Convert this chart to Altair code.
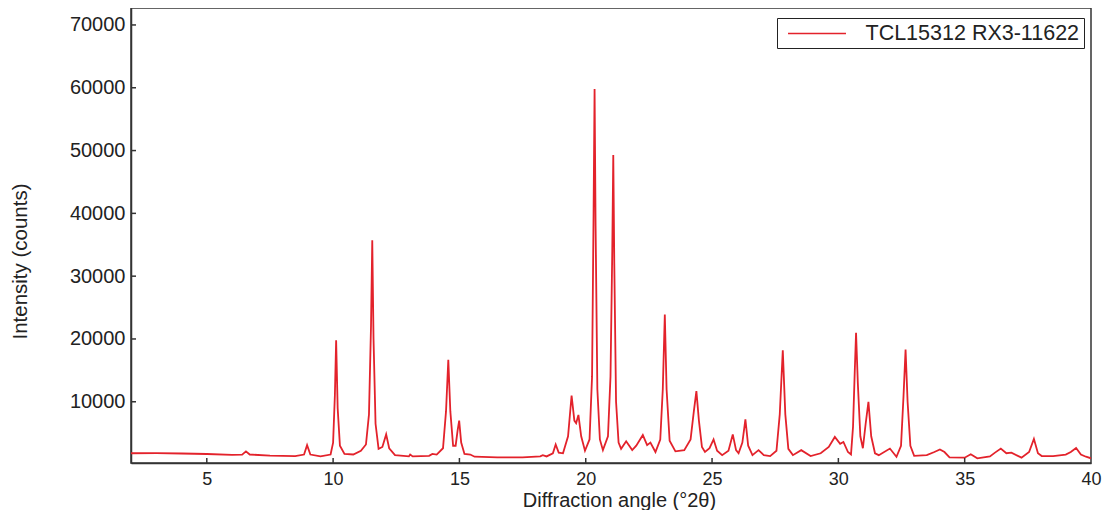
import altair as alt
import pandas as pd

SERIES = "TCL15312 RX3-11622"

angle = [
    2.0, 3.0, 4.0, 5.0, 6.0, 6.4, 6.55, 6.7, 7.5, 8.5,
    8.85, 8.97, 9.1, 9.5, 9.9, 10.0, 10.07, 10.12, 10.18, 10.27,
    10.45, 10.8, 11.1, 11.3, 11.42, 11.5, 11.55, 11.6, 11.68, 11.8,
    11.95, 12.1, 12.22, 12.45, 13.0, 13.05, 13.15, 13.8, 13.93, 14.1,
    14.35, 14.47, 14.56, 14.64, 14.75, 14.85, 14.93, 14.99, 15.07, 15.2,
    15.43, 15.6, 16.5, 17.5, 18.2, 18.3, 18.45, 18.7, 18.81, 18.93,
    19.1, 19.3, 19.44, 19.55, 19.62, 19.71, 19.82, 19.97, 20.15, 20.25,
    20.31, 20.35, 20.39, 20.46, 20.56, 20.68, 20.88, 20.98, 21.05, 21.09,
    21.13, 21.2, 21.3, 21.4, 21.6, 21.84, 22.0, 22.26, 22.43, 22.56,
    22.76, 22.95, 23.05, 23.13, 23.2, 23.32, 23.55, 23.9, 24.15, 24.28,
    24.38, 24.48, 24.6, 24.72, 24.9, 25.06, 25.2, 25.4, 25.65, 25.82,
    25.95, 26.05, 26.2, 26.32, 26.43, 26.6, 26.84, 27.05, 27.3, 27.55,
    27.68, 27.8, 27.9, 28.02, 28.2, 28.53, 28.9, 29.3, 29.62, 29.86,
    30.07, 30.2, 30.38, 30.5, 30.58, 30.65, 30.7, 30.77, 30.87, 30.97,
    31.08, 31.19, 31.3, 31.45, 31.6, 32.04, 32.3, 32.48, 32.58, 32.66,
    32.74, 32.85, 33.0, 33.5, 33.8, 34.02, 34.2, 34.4, 35.0, 35.24,
    35.5, 36.0, 36.2, 36.43, 36.65, 36.85, 37.25, 37.55, 37.74, 37.9,
    38.05, 38.5, 39.0, 39.2, 39.41, 39.6, 39.8, 40.0,
]

intensity = [
    1800, 1820, 1760, 1680, 1550, 1580, 2100, 1600, 1420, 1350,
    1600, 3100, 1600, 1300, 1600, 3500, 11000, 19800, 9000, 3000,
    1700, 1600, 2200, 3200, 8000, 22000, 35700, 20000, 6500, 2500,
    2800, 4800, 2600, 1500, 1300, 1600, 1300, 1400, 1700, 1600,
    2600, 8500, 16700, 8500, 3000, 3000, 5500, 7000, 3500, 1700,
    1600, 1250, 1150, 1150, 1300, 1500, 1300, 1800, 3200, 1900,
    1800, 4500, 11000, 7000, 6600, 7900, 4500, 2200, 4000, 14000,
    40000, 59800, 38000, 12000, 4000, 2300, 4500, 14000, 34000, 49300,
    32000, 10000, 3500, 2500, 3700, 2300, 3000, 4700, 3100, 3500,
    2000, 4000, 12000, 23900, 12000, 3800, 2100, 2300, 4000, 8500,
    11700, 7000, 2800, 2000, 2600, 4000, 2200, 1500, 2200, 4800,
    2300, 1800, 3500, 7200, 3000, 1500, 2300, 1500, 1350, 2200,
    8000, 18200, 8000, 2500, 1500, 2300, 1350, 1800, 2800, 4400,
    3300, 3600, 2000, 1600, 6000, 15000, 21000, 13000, 4500, 2600,
    6500, 10000, 4500, 1800, 1500, 2550, 1250, 3000, 11000, 18300,
    10000, 3000, 1400, 1500, 2000, 2400, 2000, 1150, 1100, 1650,
    1000, 1300, 1900, 2550, 1800, 1900, 1100, 2000, 4100, 1800,
    1350, 1350, 1600, 2000, 2650, 1600, 1250, 1000,
]

x_ticks = [5, 10, 15, 20, 25, 30, 35, 40]
x_inner_ticks = [5, 10, 15, 20, 25, 30, 35]
y_ticks = [10000, 20000, 30000, 40000, 50000, 60000, 70000]

X_DOMAIN = [2, 40]
Y_DOMAIN = [250, 72700]
W, H = 960, 455
FONT = "Liberation Sans"
TXT = "#222222"
FRAME = "#333333"

df = pd.DataFrame({"angle": angle, "intensity": intensity, "series": SERIES})
xt = pd.DataFrame({"angle": x_inner_ticks})
yt = pd.DataFrame({"intensity": y_ticks})

xscale = alt.Scale(domain=X_DOMAIN, nice=False, zero=False)
yscale = alt.Scale(domain=Y_DOMAIN, nice=False, zero=False)

xaxis = alt.Axis(
    values=x_ticks,
    format="d",
    title="Diffraction angle (°2θ)",
    ticks=False,
    tickSize=0,
    labelPadding=7,
    labelFlush=False,
    labelOverlap=False,
    labelFontSize=18,
    labelFont=FONT,
    labelColor=TXT,
    titleFont=FONT,
    titleFontSize=20,
    titleFontWeight="normal",
    titleColor=TXT,
    titleX=488,
    titleY=27,
    titleBaseline="top",
    grid=False,
    domainColor=FRAME,
    domainWidth=1.5,
)
yaxis = alt.Axis(
    values=y_ticks,
    format="d",
    title="Intensity (counts)",
    ticks=False,
    tickSize=0,
    labelPadding=6,
    labelFlush=False,
    labelFontSize=20,
    labelFont=FONT,
    labelColor=TXT,
    titleFont=FONT,
    titleFontSize=20.5,
    titleFontWeight="normal",
    titleColor=TXT,
    titleX=-101,
    titleY=253,
    grid=False,
    domainColor=FRAME,
    domainWidth=1.5,
)

line = alt.Chart(df).mark_line(strokeWidth=1.8, clip=True).encode(
    x=alt.X("angle:Q", scale=xscale, axis=xaxis),
    y=alt.Y("intensity:Q", scale=yscale, axis=yaxis),
    color=alt.Color(
        "series:N",
        scale=alt.Scale(range=["#e3222b"]),
        legend=alt.Legend(
            title=None,
            orient="none",
            legendX=646,
            legendY=10,
            strokeColor="#222222",
            fillColor="white",
            padding=4,
            symbolType="M-2.76,0H2.76",
            symbolSize=441,
            symbolStrokeWidth=1.5,
            symbolOffset=24.5,
            labelOffset=37,
            labelLimit=500,
            labelFontSize=21.5,
            labelFont=FONT,
            labelColor=TXT,
        ),
    ),
)

xtick_layer = alt.Chart(xt).mark_rule(color=FRAME, strokeWidth=1.5).encode(
    x=alt.X("angle:Q", scale=xscale, axis=xaxis),
    y=alt.value(H - 5),
    y2=alt.value(H),
)

ytick_layer = alt.Chart(yt).mark_rule(color=FRAME, strokeWidth=1.5).encode(
    y=alt.Y("intensity:Q", scale=yscale, axis=yaxis),
    x=alt.value(0),
    x2=alt.value(5),
)

chart = (
    alt.layer(line, xtick_layer, ytick_layer)
    .properties(
        width=W,
        height=H,
        background="white",
        autosize=alt.AutoSizeParams(type="none"),
        padding={"left": 123, "top": 0, "right": 11, "bottom": 47},
    )
    .configure_view(stroke=FRAME, strokeWidth=1.5)
)

chart.save("out.html", embed_options={"renderer": "svg", "actions": False})
